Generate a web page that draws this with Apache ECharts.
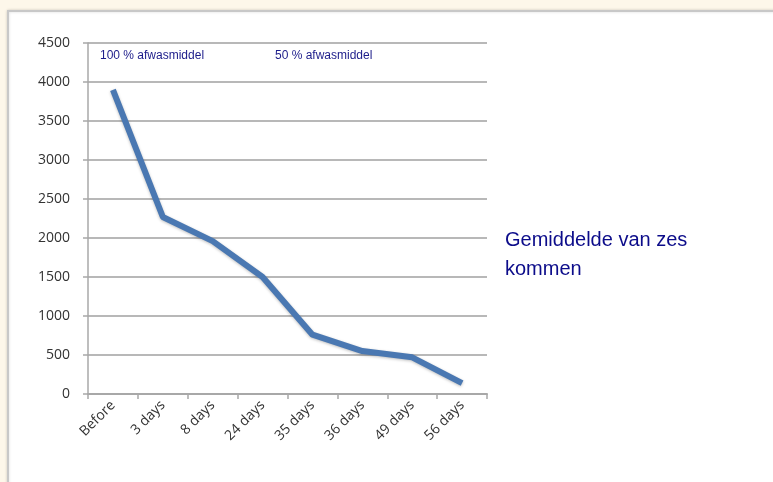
<!DOCTYPE html>
<html><head><meta charset="utf-8">
<script src="https://cdn.jsdelivr.net/npm/echarts@6/dist/echarts.min.js"></script>
<style>html,body{margin:0;padding:0;background:#fdf7ea;}#c{width:773px;height:482px;}</style>
</head><body><div id="c"></div>
<script>
const categories = ['Before', '3 days', '8 days', '24 days', '35 days', '36 days', '49 days', '56 days'];
const values = [3900, 2270, 1960, 1500, 760, 550, 470, 140];
const annotations = ['100 % afwasmiddel', '50 % afwasmiddel'];
const sideNote = 'Gemiddelde van zes\nkommen';

const chart = echarts.init(document.getElementById('c'));
chart.setOption({
  backgroundColor: '#fdf7ea',
  animation: false,
  graphic: [
    { type: 'rect', z: -10, shape: { x: 8, y: 11, width: 770, height: 480 },
      style: { fill: '#ffffff', stroke: '#c8c8c8', lineWidth: 2, shadowColor: 'rgba(0,0,0,0.15)', shadowBlur: 3 } },
    { type: 'text', left: 100, top: 50, z: 10,
      style: { text: annotations[0], fill: '#1c1c8a', font: '12px "Liberation Sans", Arial, sans-serif' } },
    { type: 'text', left: 275, top: 50, z: 10,
      style: { text: annotations[1], fill: '#1c1c8a', font: '12px "Liberation Sans", Arial, sans-serif' } },
    { type: 'text', left: 505, top: 226, z: 10,
      style: { text: sideNote, fill: '#0c0c8a', font: '20px "Liberation Sans", Arial, sans-serif', lineHeight: 29 } }
  ],
  grid: { left: 88, right: 286, top: 43, bottom: 88, containLabel: false },
  xAxis: {
    type: 'category', data: categories, boundaryGap: true,
    axisLine: { lineStyle: { color: '#a8a8a8', width: 2 } },
    axisTick: { show: true, alignWithLabel: false, length: 5, lineStyle: { color: '#a8a8a8', width: 1.5 } },
    axisLabel: { rotate: 45, color: '#333333', fontSize: 14, fontFamily: '"Open Sans", Carlito, sans-serif', margin: 9, interval: 0 }
  },
  yAxis: {
    type: 'value', min: 0, max: 4500, interval: 500,
    axisLine: { show: true, lineStyle: { color: '#a8a8a8', width: 1.5 } },
    axisTick: { show: true, length: 5, lineStyle: { color: '#a8a8a8', width: 1.5 } },
    axisLabel: { color: '#333333', fontSize: 14, fontFamily: '"Open Sans", Carlito, sans-serif', margin: 18,
      formatter: v => String(v) },
    splitLine: { lineStyle: { color: '#b8b8b8', width: 2 } }
  },
  series: [{
    type: 'line', data: values, symbol: 'none',
    lineStyle: { color: '#4a78b2', width: 6, shadowColor: 'rgba(0,0,0,0.25)', shadowBlur: 3, shadowOffsetY: 1 },
    itemStyle: { color: '#4a78b2' }
  }]
});
</script></body></html>
